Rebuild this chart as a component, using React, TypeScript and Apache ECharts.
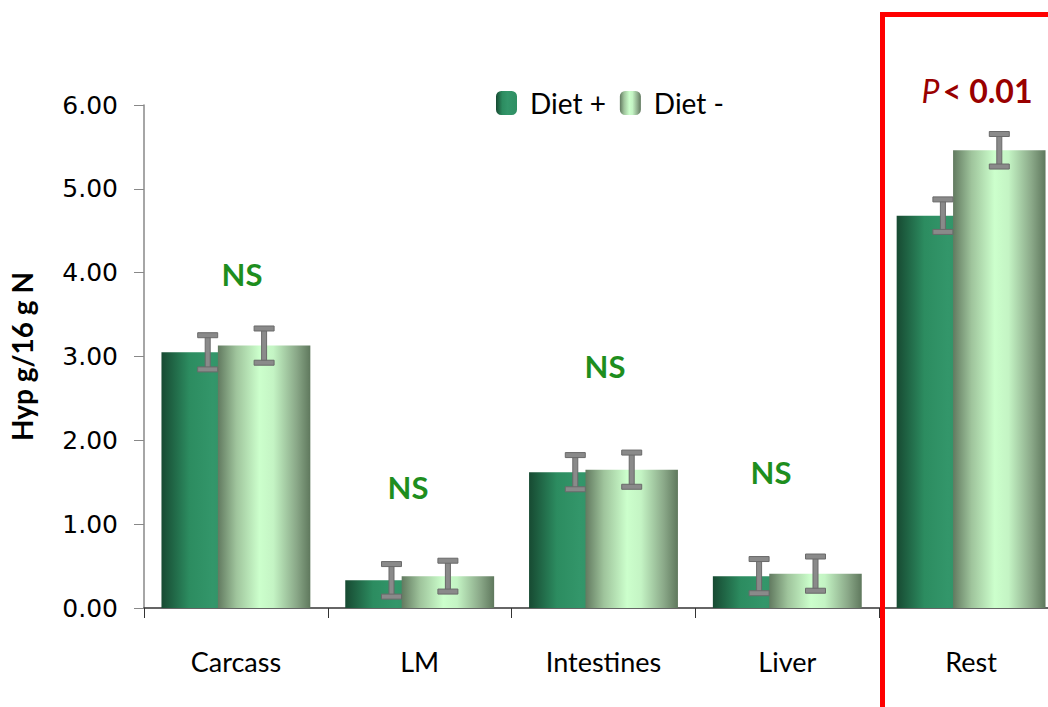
import React, { useEffect, useRef } from "react";
import * as echarts from "echarts";

const categories = ["Carcass", "LM", "Intestines", "Liver", "Rest"];
const dietPlus = [3.05, 0.33, 1.62, 0.38, 4.68];
const dietMinus = [3.13, 0.38, 1.65, 0.41, 5.46];
const errPlus = [0.21, 0.2, 0.21, 0.21, 0.2];
const errMinus = [0.21, 0.19, 0.21, 0.21, 0.2];
const yTicks = { min: 0, max: 6, interval: 1 };
const nsLabels = [
  { text: "NS", x: 242, y: 274 },
  { text: "NS", x: 408, y: 487 },
  { text: "NS", x: 605, y: 366 },
  { text: "NS", x: 771, y: 472 },
];

const BAR_GAP = -0.39;
const CAT_GAP = 0.19;

export default function App() {
  const ref = useRef<HTMLDivElement>(null);
  useEffect(() => {
    if (!ref.current) return;
    const chart = echarts.init(ref.current, undefined, { renderer: "svg" });

    const plusColor = new echarts.graphic.LinearGradient(0, 0, 1, 0, [
      { offset: 0, color: "#174a32" },
      { offset: 0.3, color: "#2c8c60" },
      { offset: 0.55, color: "#33966a" },
      { offset: 1, color: "#2f8f63" },
    ]);
    const minusColor = new echarts.graphic.LinearGradient(0, 0, 1, 0, [
      { offset: 0, color: "#627a60" },
      { offset: 0.2, color: "#9fc49c" },
      { offset: 0.45, color: "#ccffcc" },
      { offset: 0.6, color: "#c4f4c4" },
      { offset: 0.85, color: "#8aa888" },
      { offset: 1, color: "#5f785d" },
    ]);

    const errData = (vals: number[], errs: number[], side: number) =>
      vals.map((v, i) => [i, v - errs[i], v + errs[i], side]);

    const renderErr = (params: any, api: any) => {
      const idx = api.value(0);
      const lo = api.coord([idx, api.value(1)]);
      const hi = api.coord([idx, api.value(2)]);
      const side = api.value(3);
      const band = api.size([1, 0])[0];
      const w = (band * (1 - CAT_GAP)) / (2 + BAR_GAP);
      const off = (w * (2 + BAR_GAP)) / 2 - w / 2;
      const cx = lo[0] + side * off;
      const capW = 20;
      const th = 5;
      const style = { fill: "#8a8a8a", stroke: "#6a6a6a", lineWidth: 1 };
      return {
        type: "group",
        children: [
          { type: "rect", shape: { x: cx - 2.5, y: hi[1], width: th, height: lo[1] - hi[1] }, style },
          { type: "rect", shape: { x: cx - capW / 2, y: hi[1] - 2, width: capW, height: th }, style },
          { type: "rect", shape: { x: cx - capW / 2, y: lo[1] - 3, width: capW, height: th }, style },
        ],
      };
    };

    chart.setOption({
      animation: false,
      grid: { left: 143, top: 105, bottom: 99, right: 7, containLabel: false },
      legend: {
        left: 496,
        top: 89,
        padding: 0,
        itemWidth: 21,
        itemHeight: 24,
        itemGap: 14,
        data: ["Diet +", "Diet -"],
        textStyle: { fontFamily: "Lato", fontSize: 28, color: "#000", padding: [0, 0, 0, 8] },
      },
      xAxis: {
        type: "category",
        data: categories,
        axisLine: { lineStyle: { color: "#333", width: 1.5 } },
        axisTick: { show: true, length: 10, lineStyle: { color: "#333" } },
        axisLabel: { fontFamily: "Lato", fontSize: 27, color: "#000", margin: 40 },
      },
      yAxis: {
        type: "value",
        min: yTicks.min,
        max: yTicks.max,
        interval: yTicks.interval,
        name: "Hyp g/16 g N",
        nameLocation: "middle",
        nameGap: 108,
        nameTextStyle: { fontFamily: "Lato", fontWeight: "bold", fontSize: 28, color: "#000" },
        axisLine: { show: true, lineStyle: { color: "#888", width: 1.5 } },
        axisTick: { show: true, length: 10, lineStyle: { color: "#888" } },
        splitLine: { show: false },
        axisLabel: {
          fontFamily: "DejaVu Sans",
          fontSize: 25,
          color: "#000",
          margin: 26,
          formatter: (v: number) => v.toFixed(2),
        },
      },
      series: [
        {
          name: "Diet +",
          type: "bar",
          data: dietPlus,
          itemStyle: { color: plusColor },
          barGap: "-39%",
          barCategoryGap: "19%",
        },
        {
          name: "Diet -",
          type: "bar",
          data: dietMinus,
          itemStyle: { color: minusColor },
          barGap: "-39%",
          barCategoryGap: "19%",
        },
        {
          type: "custom",
          name: "errPlus",
          renderItem: renderErr,
          data: errData(dietPlus, errPlus, -1),
          z: 10,
          encode: { x: 0, y: [1, 2] },
        },
        {
          type: "custom",
          name: "errMinus",
          renderItem: renderErr,
          data: errData(dietMinus, errMinus, 1),
          z: 10,
          encode: { x: 0, y: [1, 2] },
        },
      ],
      graphic: [
        ...nsLabels.map((n) => ({
          type: "text",
          x: n.x,
          y: n.y,
          style: {
            text: n.text,
            fontFamily: "Lato",
            fontWeight: "bold",
            fontSize: 31,
            fill: "#1e8e1e",
            textAlign: "center",
            textVerticalAlign: "middle",
          },
        })),
        {
          type: "rect",
          shape: { x: 882.5, y: 14.5, width: 300, height: 800 },
          style: { fill: "none", stroke: "#ff0000", lineWidth: 5 },
          z: 100,
        },
        {
          type: "text",
          x: 977,
          y: 90,
          style: {
            text: "{i|P} {b|< 0.01}",
            textAlign: "center",
            textVerticalAlign: "middle",
            rich: {
              i: { fontFamily: "Lato", fontStyle: "italic", fontSize: 32, fill: "#990000", fontWeight: "normal" },
              b: { fontFamily: "Lato", fontWeight: "bold", fontSize: 32, fill: "#990000" },
            },
          },
          z: 100,
        },
      ],
    });
    return () => chart.dispose();
  }, []);
  return (
    <div
      ref={ref}
      style={{ position: "fixed", left: 0, top: 0, width: 1070, height: 707, background: "#fff" }}
    />
  );
}
